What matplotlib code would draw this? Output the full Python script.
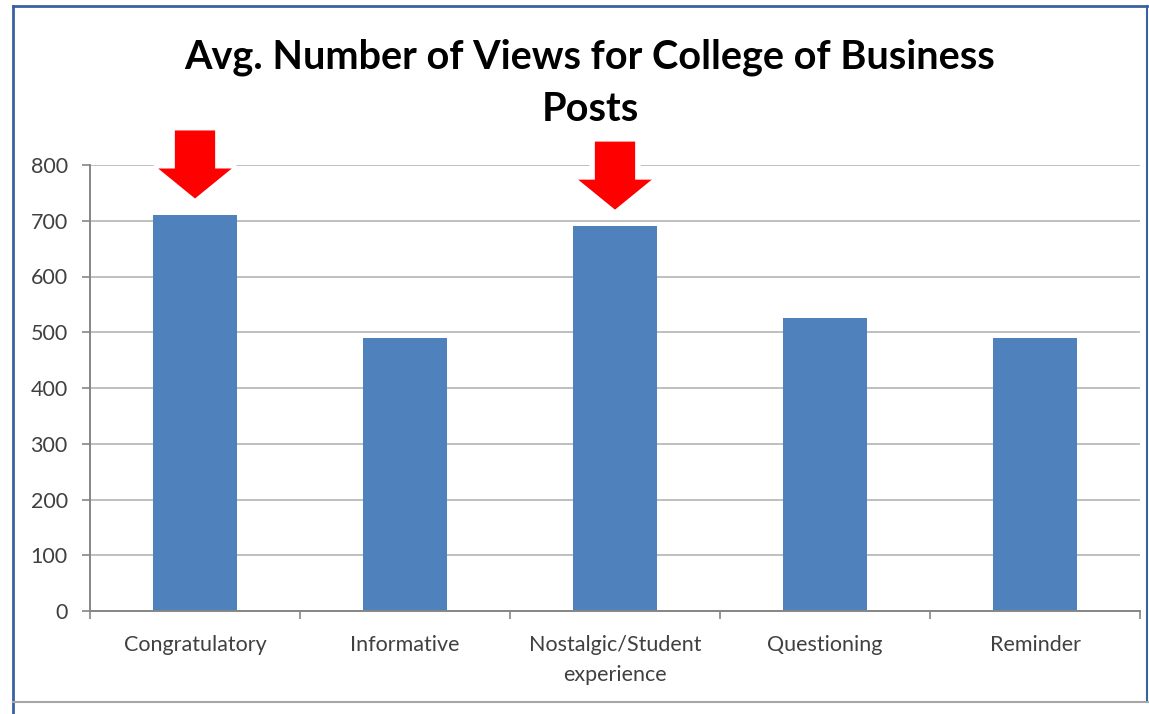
import matplotlib
matplotlib.use("Agg")
import matplotlib.pyplot as plt
from matplotlib.lines import Line2D
import matplotlib.patheffects as pe

categories = ["Congratulatory", "Informative", "Nostalgic/Student\nexperience", "Questioning", "Reminder"]
values = [710, 490, 690, 525, 490]
highlighted = [0, 2]
y_ticks = [0, 100, 200, 300, 400, 500, 600, 700, 800]
title = "Avg. Number of Views for College of Business\nPosts"

plt.rcParams['font.family'] = ['Lato', 'DejaVu Sans']

fig = plt.figure(figsize=(11.49, 7.14), dpi=100)
ax = fig.add_axes([90/1149, 1 - 611/714, 1050/1149, 446/714])

bar_color = "#4f81bd"
grid_color = "#bfbfbf"
axis_color = "#868686"
text_color = "#404040"

x = list(range(len(categories)))
ax.bar(x, values, width=0.4, color=bar_color, zorder=2)
ax.set_xlim(-0.5, len(categories) - 0.5)
ax.set_ylim(0, 800)
ax.set_yticks(y_ticks)
ax.set_yticklabels([str(v) for v in y_ticks], fontsize=15.5, color=text_color)
ax.set_xticks(x)
ax.set_xticklabels(categories, fontsize=15.5, color=text_color, linespacing=1.65)
ax.tick_params(axis='x', length=0, pad=17)
ax.tick_params(axis='y', length=6, width=1.2, color=axis_color, pad=10)
ax.set_xticks([i + 0.5 for i in range(-1, len(categories))], minor=True)
ax.tick_params(axis='x', which='minor', length=6, width=1.2, color=axis_color, direction='out')
ax.yaxis.grid(True, color=grid_color, linewidth=1.4, zorder=0)
ax.set_axisbelow(True)
for s in ['top', 'right']:
    ax.spines[s].set_visible(False)
for s in ['left', 'bottom']:
    ax.spines[s].set_color(axis_color)
    ax.spines[s].set_linewidth(1.4)

# red highlight arrows above selected bars
for i in highlighted:
    ann = ax.annotate("", xy=(i, values[i]), xycoords='data',
                      xytext=(0, 61), textcoords='offset points',
                      arrowprops=dict(arrowstyle="simple,head_length=21.6,head_width=53,tail_width=29",
                                      mutation_scale=1, facecolor='#ff0000', edgecolor='none',
                                      shrinkA=0, shrinkB=12),
                      zorder=5)
    ann.arrow_patch.set_path_effects([pe.Stroke(linewidth=8, foreground='white'), pe.Normal()])

fig.text(590/1149, 1 - 83/714, title, ha='center', va='center', fontsize=28.5,
         fontweight='bold', color='black', linespacing=1.5)

# screenshot frame
blue = "#3a62a0"
fig.add_artist(Line2D([13/1149, 13/1149], [0, 1 - 6/714], transform=fig.transFigure, color=blue, lw=2))
fig.add_artist(Line2D([13/1149, 1147/1149], [1 - 6/714, 1 - 6/714], transform=fig.transFigure, color=blue, lw=2))
fig.add_artist(Line2D([1147/1149, 1147/1149], [1 - 702/714, 1 - 6/714], transform=fig.transFigure, color=blue, lw=1.5))
fig.add_artist(Line2D([13/1149, 1149/1149], [1 - 702/714, 1 - 702/714], transform=fig.transFigure, color="#a6a6a6", lw=1.5))

fig.savefig("out.png", dpi=100)
